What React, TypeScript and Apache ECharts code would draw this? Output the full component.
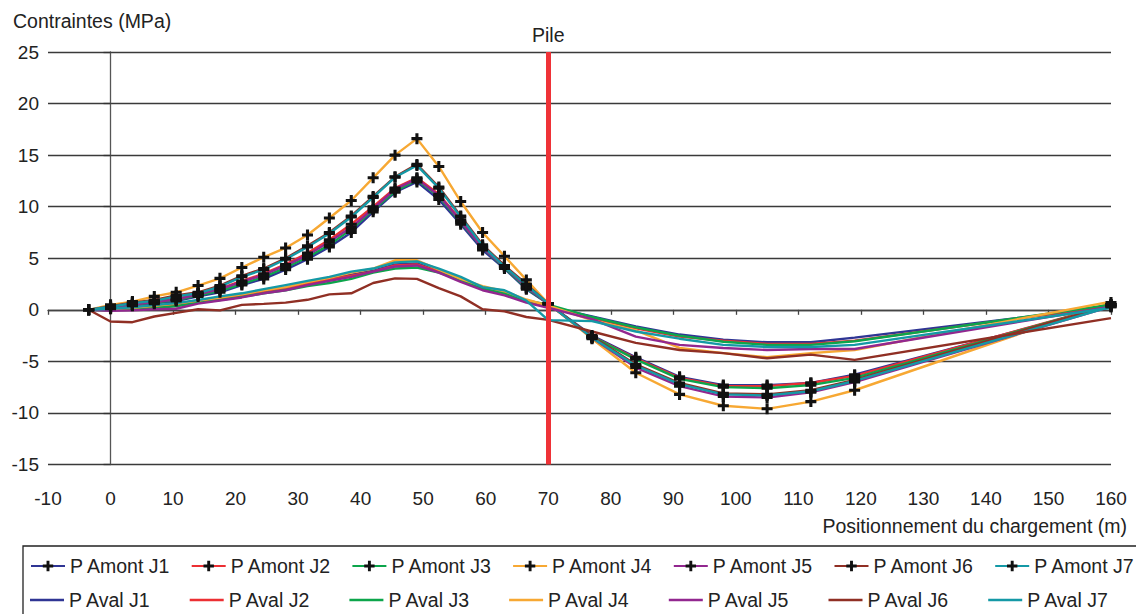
import React, { useEffect, useRef } from "react";
import * as echarts from "echarts";

const positions = [-3.5, 0, 3.5, 7, 10.5, 14, 17.5, 21, 24.5, 28, 31.5, 35, 38.5, 42, 45.5, 49, 52.5, 56, 59.5, 63, 66.5, 70, 77, 84, 91, 98, 105, 112, 119, 160];

const amontJ1 = [0, 0.1, 0.4, 0.6, 0.85, 1.3, 1.7, 2.4, 3.0, 3.9, 4.9, 6.1, 7.5, 9.5, 11.4, 12.4, 10.7, 8.3, 5.8, 4.0, 2.0, 0.6, -2.5, -4.6, -6.5, -7.3, -7.3, -7.1, -6.3, 0.4];
const amontJ2 = [0, 0.2, 0.55, 0.8, 1.05, 1.55, 2.05, 2.8, 3.5, 4.4, 5.5, 6.8, 8.3, 10.0, 11.8, 12.8, 11.2, 8.7, 6.1, 4.3, 2.2, 0.6, -2.6, -4.7, -6.6, -7.4, -7.4, -7.1, -6.4, 0.5];
const amontJ3 = [0, 0.15, 0.5, 0.7, 0.95, 1.4, 1.85, 2.5, 3.2, 4.1, 5.1, 6.3, 7.8, 9.7, 11.5, 12.6, 11.0, 8.5, 6.0, 4.1, 2.1, 0.6, -2.6, -4.8, -6.7, -7.5, -7.6, -7.3, -6.6, 0.5];
const amontJ4 = [0, 0.48, 0.8, 1.3, 1.7, 2.35, 3.05, 4.1, 5.1, 6.0, 7.25, 8.9, 10.6, 12.8, 15.0, 16.6, 13.9, 10.5, 7.5, 5.2, 2.9, 0.6, -2.8, -6.1, -8.2, -9.3, -9.6, -8.9, -7.8, 0.7];
const amontJ5 = [0, 0.2, 0.5, 0.75, 1.0, 1.5, 2.0, 2.7, 3.4, 4.3, 5.3, 6.6, 8.0, 9.8, 11.7, 12.7, 11.1, 8.6, 6.0, 4.2, 2.2, 0.6, -2.7, -5.6, -7.4, -8.4, -8.5, -8.0, -7.0, 0.3];
const amontJ6 = [0, 0.35, 0.7, 0.95, 1.4, 1.7, 2.35, 3.3, 4.0, 5.0, 6.2, 7.5, 9.1, 11.0, 12.9, 14.1, 11.9, 9.1, 6.3, 4.3, 2.5, 0.6, -2.6, -5.3, -7.1, -8.1, -8.2, -7.8, -6.8, 0.5];
const amontJ7 = [0, 0.3, 0.65, 0.87, 1.3, 1.6, 2.25, 3.2, 3.9, 4.9, 6.1, 7.4, 9.0, 10.9, 12.85, 14.0, 11.8, 9.0, 6.2, 4.2, 2.4, 0.6, -2.7, -5.4, -7.2, -8.2, -8.3, -7.9, -6.9, 0.3];

const avalJ1 = [0, 0.05, 0.15, 0.3, 0.5, 0.8, 1.1, 1.4, 1.8, 2.1, 2.6, 3.0, 3.4, 3.8, 4.4, 4.5, 3.8, 2.9, 2.0, 1.7, 0.9, 0.3, -0.65, -1.6, -2.4, -2.9, -3.15, -3.15, -2.7, 0.3];
const avalJ2 = [0, 0.0, 0.1, 0.3, 0.45, 0.75, 1.05, 1.35, 1.7, 2.0, 2.5, 2.9, 3.3, 3.7, 4.3, 4.4, 3.7, 2.8, 2.0, 1.6, 0.8, 0.4, -0.8, -1.8, -2.6, -3.0, -3.3, -3.3, -3.0, 0.4];
const avalJ3 = [0, -0.05, 0.1, 0.2, 0.35, 0.7, 0.95, 1.25, 1.6, 1.9, 2.3, 2.6, 3.0, 3.6, 4.0, 4.1, 3.6, 2.9, 2.1, 1.6, 0.9, 0.5, -0.7, -1.7, -2.5, -3.1, -3.4, -3.4, -3.05, 0.5];
const avalJ4 = [0, 0.05, 0.2, 0.4, 0.6, 0.9, 1.2, 1.5, 1.9, 2.2, 2.7, 3.1, 3.6, 4.0, 4.8, 4.8, 3.9, 3.0, 2.3, 1.8, 1.0, 0.4, -1.0, -2.0, -3.7, -4.2, -4.6, -4.2, -3.9, 0.8];
const avalJ5 = [0, -0.1, -0.05, 0.05, 0.1, 0.6, 0.9, 1.2, 1.6, 1.9, 2.4, 2.8, 3.2, 3.7, 4.2, 4.3, 3.6, 2.7, 1.9, 1.4, 0.7, 0.2, -0.9, -2.6, -3.4, -3.7, -3.9, -3.8, -3.8, 0.3];
const avalJ6 = [0, -1.13, -1.2, -0.65, -0.3, 0.05, -0.05, 0.48, 0.58, 0.7, 0.97, 1.5, 1.6, 2.6, 3.05, 3.0, 2.1, 1.3, 0.05, -0.15, -0.7, -0.97, -2.1, -3.2, -3.9, -4.2, -4.7, -4.35, -4.85, -0.8];
const avalJ7 = [0, 0.1, 0.25, 0.45, 0.65, 0.95, 1.3, 1.6, 2.0, 2.4, 2.8, 3.2, 3.7, 4.0, 4.6, 4.7, 4.0, 3.2, 2.2, 1.9, 0.9, -1.0, -1.1, -2.1, -2.8, -3.4, -3.6, -3.6, -3.4, 0.2];

const amontNames = ["P Amont J1", "P Amont J2", "P Amont J3", "P Amont J4", "P Amont J5", "P Amont J6", "P Amont J7"];
const avalNames = ["P Aval J1", "P Aval J2", "P Aval J3", "P Aval J4", "P Aval J5", "P Aval J6", "P Aval J7"];
const amontValues = [amontJ1, amontJ2, amontJ3, amontJ4, amontJ5, amontJ6, amontJ7];
const avalValues = [avalJ1, avalJ2, avalJ3, avalJ4, avalJ5, avalJ6, avalJ7];
const colors = ["#2f3594", "#ec2f33", "#0ca54b", "#f7a833", "#92278f", "#902f24", "#1499a6"];

const pilePosition = 70;
const yTitle = "Contraintes (MPa)";
const xTitle = "Positionnement du chargement (m)";
const pileLabel = "Pile";

const FONT = "'Liberation Sans', Arial, Helvetica, sans-serif";
const FS = 19.5;
const FS_TICK = 19;
const TXT = "#222";
const PLUS = "path://M3.6,0H6.4V3.6H10V6.4H6.4V10H3.6V6.4H0V3.6H3.6Z";
const LINE_ICON = "path://M0,0H34V2.4H0Z";

export default function App() {
  const ref = useRef<HTMLDivElement>(null);
  useEffect(() => {
    if (!ref.current) return;
    const chart = echarts.init(ref.current, null, { renderer: "svg" });
    const toPairs = (vals: number[]) => positions.map((x, i) => [x, vals[i]]);
    const series: any[] = [];
    amontNames.forEach((name, i) => {
      series.push({
        name,
        type: "line",
        xAxisIndex: 0,
        yAxisIndex: 0,
        data: toPairs(amontValues[i]),
        symbol: PLUS,
        symbolSize: 11,
        showSymbol: true,
        itemStyle: { color: "#111" },
        lineStyle: { color: colors[i], width: 2.4 },
        emphasis: { disabled: true },
      });
    });
    avalNames.forEach((name, i) => {
      series.push({
        name,
        type: "line",
        xAxisIndex: 0,
        yAxisIndex: 0,
        data: toPairs(avalValues[i]),
        symbol: "none",
        itemStyle: { color: colors[i] },
        lineStyle: { color: colors[i], width: 2.4 },
        emphasis: { disabled: true },
      });
    });
    series.push({
      name: "pile",
      type: "line",
      data: [],
      xAxisIndex: 0,
      yAxisIndex: 0,
      markLine: {
        silent: true,
        symbol: "none",
        animation: false,
        lineStyle: { color: "#ef3237", width: 5, type: "solid" },
        label: {
          show: true,
          position: "end",
          formatter: pileLabel,
          fontSize: FS,
          fontFamily: FONT,
          color: TXT,
          distance: 7,
        },
        data: [{ xAxis: pilePosition }],
      },
    });

    const legendCommon = {
      left: 30,
      width: 1180,
      orient: "horizontal",
      itemWidth: 34,
      itemHeight: 13,
      itemGap: 16.7,
      padding: 0,
      textStyle: { fontSize: FS, fontFamily: FONT, color: TXT, width: 104, overflow: "none", lineHeight: 20 },
    };

    chart.setOption({
      animation: false,
      backgroundColor: "#fff",
      textStyle: { fontFamily: FONT },
      grid: { left: 48, right: 25, top: 52, bottom: 149.5, containLabel: false },
      legend: [
        { ...legendCommon, top: 556, data: amontNames },
        { ...legendCommon, top: 590, data: avalNames.map((n) => ({ name: n, icon: LINE_ICON })) },
      ],
      xAxis: [
        {
          type: "value",
          min: -10,
          max: 160,
          interval: 10,
          position: "bottom",
          axisLine: { show: false, onZero: false },
          axisTick: { show: false },
          splitLine: { show: false },
          axisLabel: { fontSize: FS_TICK, fontFamily: FONT, color: TXT, margin: 24 },
        },
        {
          type: "value",
          min: -10,
          max: 160,
          interval: 10,
          position: "top",
          axisLine: { show: true, onZero: true, onZeroAxisIndex: 0, lineStyle: { color: "#444", width: 1.3 } },
          axisTick: { show: true, inside: true, length: 5, lineStyle: { color: "#444", width: 1.3 } },
          axisLabel: { show: false },
          splitLine: { show: false },
        },
      ],
      yAxis: [
        {
          type: "value",
          min: -15,
          max: 25,
          interval: 5,
          position: "left",
          axisLine: { show: false, onZero: false },
          axisTick: { show: false },
          splitLine: { show: true, lineStyle: { color: "#3a3a3a", width: 1.3 } },
          axisLabel: { fontSize: FS_TICK, fontFamily: FONT, color: TXT, margin: 9 },
        },
        {
          type: "value",
          min: -15,
          max: 25,
          interval: 5,
          position: "right",
          axisLine: { show: true, onZero: true, onZeroAxisIndex: 0, lineStyle: { color: "#555", width: 1.3 } },
          axisTick: { show: true, inside: true, length: 7, lineStyle: { color: "#333", width: 1.3 } },
          axisLabel: { show: false },
          splitLine: { show: false },
        },
      ],
      graphic: [
        {
          type: "text",
          left: 13,
          top: 11,
          style: { text: yTitle, fontSize: FS, fontFamily: FONT, fill: TXT },
        },
        {
          type: "text",
          right: 9,
          top: 516,
          style: { text: xTitle, fontSize: FS, fontFamily: FONT, fill: TXT },
        },
        {
          type: "rect",
          shape: { x: 23, y: 546, width: 1130, height: 90 },
          style: { fill: "none", stroke: "#222", lineWidth: 1.3 },
        },
      ],
      series,
    });
    return () => chart.dispose();
  }, []);
  return (
    <div
      ref={ref}
      style={{ position: "fixed", left: 0, top: 0, width: 1136, height: 614, background: "#fff" }}
    />
  );
}
